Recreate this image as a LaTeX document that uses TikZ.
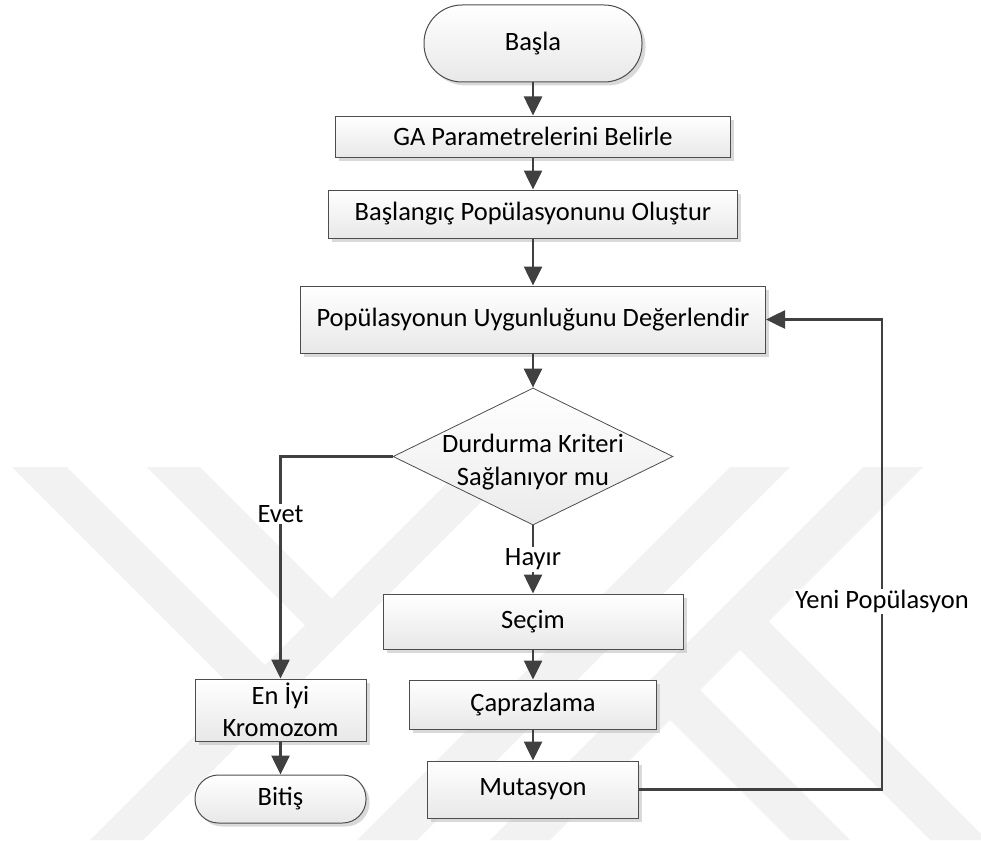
\documentclass[tikz,border=0pt]{standalone}
\usepackage{fontspec}
\setmainfont{Carlito}
\usetikzlibrary{arrows.meta,shapes.geometric,shadows}
\definecolor{linec}{HTML}{404040}
\definecolor{edgec}{HTML}{4D4D4D}
\definecolor{wmark}{HTML}{F2F2F2}
\begin{document}
\begin{tikzpicture}[x=1pt,y=-1pt,
  every node/.style={font=\fontsize{26.5}{32.5}\selectfont, text=black},
  procbox/.style={rectangle, draw=edgec, line width=1pt, top color=white, bottom color=black!9,
    inner sep=0pt, align=center,
    drop shadow={shadow xshift=3.5pt, shadow yshift=-3.5pt, fill=black!25, opacity=0.6}},
  pill/.style={procbox, rounded corners=#1},
  decbox/.style={diamond, draw=edgec, line width=0.8pt, top color=white, bottom color=black!8, inner sep=0pt},
  flow/.style={draw=linec, line width=2.6pt, -{Triangle[width=18pt,length=19pt]}},
  tag/.style={fill=white, inner sep=1.5pt}
]
\useasboundingbox (0,0) rectangle (981,840);
% watermark
\fill[wmark] (12,467) -- (67,467) -- (278,678) -- (250.5,705.5) -- cycle;
\fill[wmark] (147,467) -- (200,467) -- (344.5,611.5) -- (318,638) -- cycle;
\fill[wmark] (463,467) -- (516,467) -- (143,840) -- (90,840) -- cycle;
\fill[wmark] (730,467) -- (790,467) -- (417,840) -- (357,840) -- cycle;
\fill[wmark] (863,467) -- (923,467) -- (550,840) -- (490,840) -- cycle;
\fill[wmark] (753.5,606.5) -- (981,834) -- (981,840) -- (930,840) -- (725,635) -- cycle;
\fill[wmark] (685,675) -- (850,840) -- (790,840) -- (655,705) -- cycle;

% nodes
\node[pill=38pt, minimum width=218pt, minimum height=77pt] (basla) at (533,43.5) {Başla};
\node[procbox, minimum width=395pt, minimum height=41pt] (ga) at (533,136.5) {GA Parametrelerini Belirle};
\node[procbox, minimum width=409pt, minimum height=48pt] (bp) at (533,214) {Başlangıç Popülasyonunu Oluştur};
\node[procbox, minimum width=465pt, minimum height=67pt] (pu) at (533,319.5) {Popülasyonun Uygunluğunu Değerlendir};
\node[decbox, minimum width=280pt, minimum height=137pt] (dk) at (533,456.5) {};
\node[align=center] (dkt) at (533,462) {Durdurma Kriteri\\Sağlanıyor mu};
\node[procbox, minimum width=300pt, minimum height=55pt] (se) at (533,621.5) {Seçim};
\node[procbox, minimum width=247pt, minimum height=49pt] (cp) at (533,704.5) {Çaprazlama};
\node[procbox, minimum width=211pt, minimum height=57pt] (mu) at (533,789.5) {Mutasyon};
\node[procbox, minimum width=171pt, minimum height=62pt] (ei) at (280.5,710) {En İyi\\Kromozom};
\node[pill=23.5pt, minimum width=171pt, minimum height=48pt] (bi) at (280.5,799) {Bitiş};
\coordinate (fb) at (882,789.5);

% connectors
\draw[flow] (basla) -- (ga);
\draw[flow] (ga) -- (bp);
\draw[flow] (bp) -- (pu);
\draw[flow] (pu) -- (dk);
\draw[flow] (dk) -- node[tag]{Hayır} (se);
\draw[flow] (dk.west) -| node[tag, pos=0.63]{Evet} (ei.north);
\draw[flow] (ei) -- (bi);
\draw[flow] (se) -- (cp);
\draw[flow] (cp) -- (mu);
\draw[flow] (mu.east) -- (fb) |- node[tag, pos=0.2]{Yeni Popülasyon} (pu.east);
\end{tikzpicture}
\end{document}
